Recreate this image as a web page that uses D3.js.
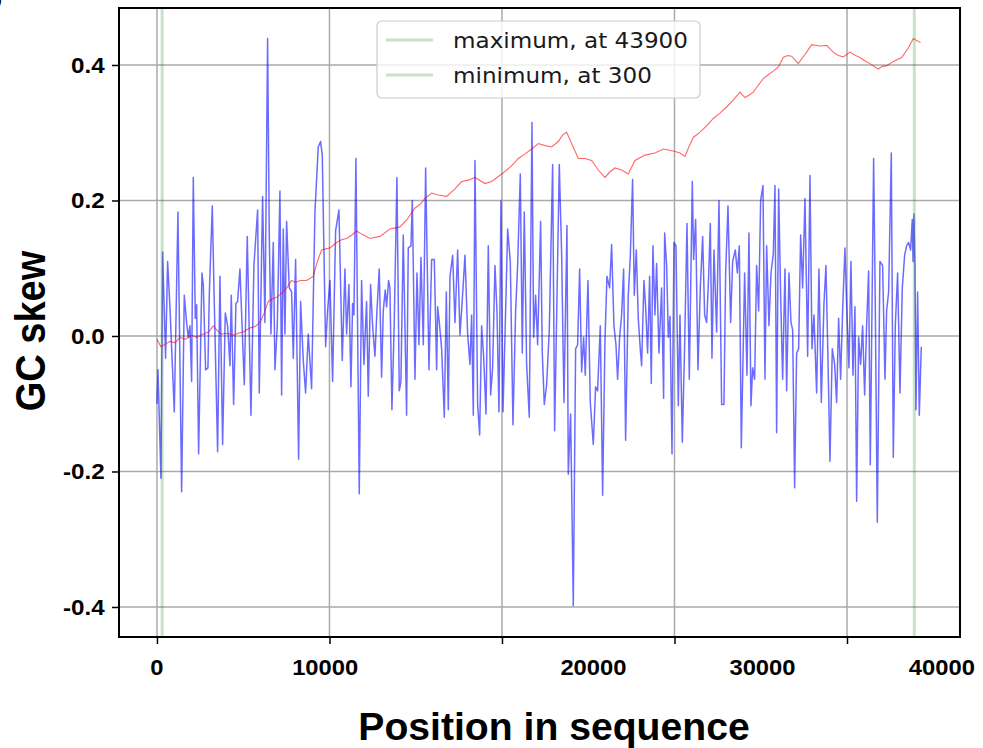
<!DOCTYPE html>
<html>
<head>
<meta charset="utf-8">
<script src="https://cdn.jsdelivr.net/npm/d3@7"></script>
<style>
  body { margin: 0; background: #fff; }
  svg { display: block; }
</style>
</head>
<body>
<div class="gc-plot"></div>
<script>
/** GC skew along the sequence, windows: [position, skew] */
const gcSkew = [
  [0,-0.100],[60,-0.050],[232,-0.210],[328,0.124],[502,-0.033],[618,0.110],[753,0.043],[1005,-0.112],
  [1217,0.183],[1430,-0.230],[1584,0.060],[1719,0.020],[1816,-0.002],[1913,0.015],[2009,-0.067],[2106,0.234],
  [2222,0.026],[2299,0.046],[2415,-0.174],[2608,0.093],[2685,0.076],[2821,-0.050],[2956,-0.047],[3033,0.060],
  [3207,0.192],[3304,0.071],[3516,-0.171],[3651,0.088],[3806,-0.160],[3961,0.034],[4096,0.015],[4231,-0.044],
  [4308,0.060],[4444,-0.101],[4579,0.048],[4675,0.051],[4811,0.099],[5062,-0.072],[5236,0.147],[5448,-0.117],
  [5622,0.104],[5835,0.186],[5931,-0.084],[6124,0.206],[6260,0.020],[6414,0.439],[6511,0.149],[6607,0.003],
  [6743,0.138],[6839,-0.050],[6975,0.015],[7129,0.214],[7226,-0.087],[7322,0.158],[7419,0.003],[7515,0.169],
  [7670,0.071],[7805,0.065],[7902,-0.033],[8037,0.113],[8211,-0.182],[8327,0.051],[8481,-0.036],[8617,-0.084],
  [8771,0.003],[8964,-0.078],[9158,0.183],[9351,0.279],[9486,0.287],[9583,0.267],[9776,-0.016],[9892,0.037],
  [10027,0.082],[10182,-0.067],[10356,0.155],[10549,0.186],[10742,-0.036],[10896,0.099],[10993,0.003],[11128,0.076],
  [11244,-0.075],[11341,0.048],[11418,0.031],[11534,0.262],[11727,-0.233],[11862,0.082],[11998,-0.042],[12152,0.051],
  [12249,-0.089],[12384,0.076],[12500,0.015],[12635,-0.030],[12751,0.037],[12886,0.099],[13022,-0.061],[13118,0.037],
  [13234,0.068],[13311,0.043],[13427,0.082],[13504,0.071],[13620,-0.109],[13756,0.020],[13910,0.234],[14046,-0.081],
  [14142,-0.067],[14278,0.149],[14471,-0.117],[14568,0.130],[14725,0.133],[14802,0.200],[14957,-0.064],[15073,0.093],
  [15188,-0.013],[15304,0.116],[15440,-0.013],[15575,0.248],[15768,-0.050],[15923,0.113],[16077,0.113],[16212,-0.050],
  [16270,0.043],[16367,0.020],[16502,-0.019],[16657,-0.120],[16773,0.065],[16889,-0.109],[16985,0.088],[17140,0.119],
  [17275,0.020],[17430,0.127],[17565,0.001],[17700,0.054],[17855,0.119],[18009,0.003],[18144,-0.042],[18241,0.031],
  [18338,-0.117],[18434,0.259],[18589,-0.101],[18705,-0.146],[18821,0.015],[18937,-0.030],[19072,-0.115],[19207,0.133],
  [19342,-0.087],[19458,-0.047],[19594,0.104],[19709,0.037],[19825,-0.112],[19941,0.200],[20057,-0.112],[20173,-0.002],
  [20328,0.158],[20482,0.110],[20637,-0.131],[20791,0.037],[20907,0.104],[21062,0.239],[21178,-0.025],[21293,0.183],
  [21429,-0.042],[21583,-0.120],[21738,0.315],[21835,-0.002],[21950,0.060],[22066,-0.013],[22240,0.169],[22337,-0.025],
  [22453,-0.101],[22588,-0.072],[22743,0.009],[22936,0.253],[23052,-0.140],[23187,0.054],[23322,0.253],[23458,0.121],
  [23593,-0.098],[23767,0.163],[23844,-0.204],[23979,-0.115],[24134,-0.398],[24269,-0.019],[24385,-0.013],[24501,0.099],
  [24617,-0.053],[24733,-0.002],[24829,-0.058],[24984,0.082],[25119,-0.098],[25293,-0.160],[25428,-0.075],[25544,-0.081],
  [25699,0.015],[25834,-0.235],[25969,-0.008],[26085,0.088],[26240,0.071],[26355,0.135],[26491,0.015],[26607,-0.013],
  [26703,-0.064],[26819,-0.002],[26935,0.031],[27051,0.099],[27167,-0.154],[27321,0.060],[27437,0.116],[27572,0.231],
  [27669,0.060],[27785,0.127],[27901,0.026],[28017,-0.019],[28094,-0.044],[28229,0.082],[28326,0.043],[28442,-0.025],
  [28558,0.088],[28654,-0.070],[28751,0.133],[28867,0.031],[28963,0.107],[29099,-0.025],[29253,0.071],[29369,-0.092],
  [29429,0.152],[29545,0.104],[29642,-0.002],[29739,0.029],[29855,-0.174],[29970,0.138],[30086,0.133],[30222,-0.103],
  [30318,0.031],[30453,-0.157],[30589,-0.013],[30724,0.166],[30859,-0.064],[31033,0.228],[31110,0.113],[31226,0.172],
  [31361,-0.050],[31497,0.071],[31632,0.147],[31748,0.031],[31864,0.020],[31980,0.088],[32076,0.166],[32173,-0.033],
  [32289,0.127],[32443,0.006],[32579,0.200],[32733,-0.101],[32868,-0.101],[32965,0.093],[33100,0.192],[33255,0.020],
  [33371,0.110],[33526,0.127],[33642,0.093],[33757,0.133],[33873,-0.165],[34066,0.093],[34202,-0.058],[34317,0.152],
  [34433,-0.103],[34530,-0.047],[34646,-0.064],[34762,0.104],[34878,0.037],[34994,0.200],[35129,0.222],[35245,-0.064],
  [35341,0.133],[35477,0.015],[35593,0.093],[35728,0.121],[35825,0.222],[35921,-0.143],[36037,0.217],[36153,0.060],
  [36269,-0.064],[36404,0.099],[36501,-0.081],[36636,0.093],[36752,0.020],[36849,0.009],[36964,-0.224],[37080,-0.025],
  [37196,-0.019],[37312,0.149],[37428,0.071],[37563,0.203],[37718,-0.030],[37853,0.237],[37969,-0.019],[38085,0.031],
  [38239,-0.084],[38375,0.099],[38510,-0.098],[38665,0.048],[38780,0.104],[38896,-0.033],[39012,-0.185],[39147,-0.019],
  [39283,-0.042],[39399,-0.098],[39515,0.026],[39630,-0.064],[39746,0.037],[39881,0.130],[39978,0.048],[40113,-0.047],
  [40229,0.110],[40345,-0.058],[40461,0.043],[40558,-0.244],[40674,-0.002],[40789,-0.042],[40905,0.015],[41021,-0.087],
  [41137,0.015],[41253,0.096],[41350,-0.190],[41543,0.262],[41640,0.043],[41756,-0.275],[41910,0.110],[42065,0.104],
  [42200,-0.064],[42297,0.037],[42413,0.065],[42567,0.270],[42683,-0.179],[42799,0.015],[42934,0.093],[43070,-0.084],
  [43205,0.071],[43340,0.119],[43456,0.133],[43572,0.138],[43688,0.127],[43784,0.172],[43830,0.110],[43881,0.180],
  [43939,0.104],[43997,-0.109],[44093,0.065],[44190,-0.117],[44306,-0.016]
];

/** cumulative GC skew: [position, value] */
const cumSkew = [
  [0,-0.005],[232,-0.016],[500,-0.012],[753,-0.008],[1050,-0.010],[1333,-0.002],[1650,-0.005],[2009,0.001],
  [2300,-0.002],[2685,0.003],[3000,0.006],[3265,0.015],[3500,0.008],[3748,0.003],[4100,0.004],[4424,0.001],
  [4700,0.004],[5004,0.006],[5390,0.012],[5700,0.014],[5970,0.020],[6200,0.033],[6453,0.051],[6700,0.055],
  [6936,0.057],[7322,0.065],[7550,0.072],[7805,0.082],[8050,0.079],[8288,0.082],[8675,0.082],[9061,0.088],
  [9300,0.110],[9544,0.127],[10027,0.130],[10414,0.138],[10700,0.142],[10993,0.144],[11300,0.149],[11573,0.155],
  [11900,0.150],[12346,0.144],[12925,0.147],[13200,0.152],[13504,0.158],[14084,0.161],[14500,0.172],[14957,0.189],
  [15250,0.194],[15536,0.203],[15923,0.211],[16309,0.208],[16792,0.206],[17275,0.217],[17661,0.228],[18050,0.230],
  [18434,0.234],[19014,0.225],[19400,0.228],[19980,0.239],[20559,0.251],[20946,0.262],[21300,0.268],[21719,0.276],
  [22105,0.284],[22491,0.281],[22878,0.279],[23264,0.287],[23500,0.296],[23747,0.301],[24037,0.284],[24423,0.262],
  [24810,0.262],[25196,0.259],[25583,0.245],[25969,0.234],[26250,0.242],[26549,0.248],[26935,0.245],[27321,0.239],
  [27708,0.259],[28288,0.267],[28867,0.270],[29350,0.276],[29932,0.273],[30318,0.270],[30608,0.265],[30850,0.280],
  [31091,0.293],[31477,0.301],[31864,0.310],[32250,0.321],[32637,0.329],[33023,0.338],[33400,0.348],[33796,0.360],
  [34086,0.352],[34350,0.356],[34569,0.360],[34850,0.370],[35148,0.380],[35450,0.386],[35728,0.391],[36018,0.397],
  [36307,0.411],[36550,0.414],[36790,0.413],[37177,0.402],[37400,0.410],[37660,0.419],[37950,0.430],[38432,0.428],
  [38819,0.429],[39205,0.419],[39500,0.414],[39785,0.412],[40171,0.419],[40500,0.414],[40751,0.411],[41050,0.406],
  [41331,0.402],[41814,0.394],[42050,0.398],[42297,0.399],[42683,0.405],[43166,0.411],[43552,0.425],[43842,0.439],
  [44035,0.436],[44267,0.433]
];

const maxPos = 43900, minPos = 300;
const xTicks = [0, 10000, 20000, 30000, 40000];
const xTickLabels = ['0', '10000', '20000', '30000', '40000'];
/** the tick labels in the figure do not sit under their ticks; where they sit, in sequence units */
const xTickLabelAt = [0, 9750, 25300, 35100, 45500];
const yTicks = [-0.4, -0.2, 0.0, 0.2, 0.4];
const yTickLabels = ['-0.4', '-0.2', '0.0', '0.2', '0.4'];

/** Set up canvas */
let width = 983, height = 748;
let plotLeft = 119, plotRight = 960, plotTop = 8, plotBottom = 637;
let svg = d3.select('.gc-plot').append('svg')
    .attr('width', width)
    .attr('height', height);

let x = d3.scaleLinear().domain([-2200, 46550]).range([plotLeft, plotRight]);
let y = d3.scaleLinear().domain([-0.4443, 0.4841]).range([plotBottom, plotTop]);

const boldFont = '"Liberation Sans", Arial, Helvetica, sans-serif';
const gridColor = '#aaaaaa';

/** grid */
svg.append('g')
    .selectAll('line')
    .data(xTicks)
    .enter().append('line')
    .attr('x1', d => x(d)).attr('x2', d => x(d))
    .attr('y1', plotTop).attr('y2', plotBottom)
    .attr('stroke', gridColor).attr('stroke-width', 1.5);
svg.append('g')
    .selectAll('line')
    .data(yTicks)
    .enter().append('line')
    .attr('x1', plotLeft).attr('x2', plotRight)
    .attr('y1', d => y(d)).attr('y2', d => y(d))
    .attr('stroke', gridColor).attr('stroke-width', 1.5);

/** data lines */
let lineGen = d3.line().x(d => x(d[0])).y(d => y(d[1]));

svg.append('path')
    .datum(gcSkew)
    .attr('d', lineGen)
    .attr('fill', 'none')
    .attr('stroke', '#0000ff')
    .attr('stroke-opacity', 0.58)
    .attr('stroke-width', 1.5)
    .attr('stroke-linejoin', 'round');

svg.append('path')
    .datum(cumSkew)
    .attr('d', lineGen)
    .attr('fill', 'none')
    .attr('stroke', '#ff0000')
    .attr('stroke-opacity', 0.6)
    .attr('stroke-width', 1.1);

/** max / min markers */
svg.append('g')
    .selectAll('line')
    .data([maxPos, minPos])
    .enter().append('line')
    .attr('x1', d => x(d)).attr('x2', d => x(d))
    .attr('y1', plotTop).attr('y2', plotBottom)
    .attr('stroke', '#008000')
    .attr('stroke-opacity', 0.22)
    .attr('stroke-width', 3);

/** frame */
svg.append('rect')
    .attr('x', plotLeft).attr('y', plotTop)
    .attr('width', plotRight - plotLeft).attr('height', plotBottom - plotTop)
    .attr('fill', 'none')
    .attr('stroke', '#000')
    .attr('stroke-width', 2);

/** axes: tick marks from d3, labels placed by hand */
let yAxis = svg.append('g')
    .attr('transform', `translate(${plotLeft},0)`)
    .call(d3.axisLeft(y).tickValues(yTicks).tickSize(7).tickPadding(6)
        .tickFormat((d, i) => yTickLabels[i]));
yAxis.select('.domain').remove();
yAxis.selectAll('.tick line').attr('stroke-width', 1.5);
yAxis.selectAll('.tick text')
    .attr('font-family', boldFont)
    .attr('font-weight', 'bold')
    .attr('font-size', 22)
    .attr('fill', '#000')
    .attr('transform', 'scale(1.1,1)');

let xAxis = svg.append('g')
    .attr('transform', `translate(0,${plotBottom})`)
    .call(d3.axisBottom(x).tickValues(xTicks).tickSize(7).tickFormat(''));
xAxis.select('.domain').remove();
xAxis.selectAll('.tick line').attr('stroke-width', 1.5);

svg.append('g')
    .selectAll('text')
    .data(xTickLabels)
    .enter().append('text')
    .attr('transform', (d, i) => `translate(${x(xTickLabelAt[i])},675) scale(1.08,1)`)
    .attr('text-anchor', 'middle')
    .attr('font-family', boldFont)
    .attr('font-weight', 'bold')
    .attr('font-size', 22)
    .text(d => d);

/** axis titles */
svg.append('text')
    .attr('transform', 'translate(45,331) scale(1.1,1) rotate(-90)')
    .attr('text-anchor', 'middle')
    .attr('font-family', boldFont)
    .attr('font-weight', 'bold')
    .attr('font-size', 38)
    .text('GC skew');

svg.append('text')
    .attr('transform', 'translate(554,740) scale(1.03,1)')
    .attr('text-anchor', 'middle')
    .attr('font-family', boldFont)
    .attr('font-weight', 'bold')
    .attr('font-size', 38)
    .text('Position in sequence');

/** panel letter, mostly outside the picture as in the figure */
svg.append('text')
    .attr('x', -15).attr('y', 8)
    .attr('font-family', boldFont)
    .attr('font-weight', 'bold')
    .attr('font-size', 28)
    .text('b');

/** legend */
const legendItems = [`maximum, at ${maxPos}`, `minimum, at ${minPos}`];
let legend = svg.append('g').attr('transform', 'translate(377,21)');
legend.append('rect')
    .attr('width', 323).attr('height', 77)
    .attr('rx', 5)
    .attr('fill', '#fff').attr('fill-opacity', 0.8)
    .attr('stroke', '#cccccc').attr('stroke-width', 1.2);
let items = legend.selectAll('.item')
    .data(legendItems)
    .enter().append('g')
    .attr('class', 'item')
    .attr('transform', (d, i) => `translate(0,${19 + i * 35})`);
items.append('line')
    .attr('x1', 9).attr('x2', 56)
    .attr('stroke', '#008000').attr('stroke-opacity', 0.22)
    .attr('stroke-width', 3);
items.append('text')
    .attr('transform', 'translate(76,8) scale(1.1,1)')
    .attr('font-family', '"DejaVu Sans", sans-serif')
    .attr('font-size', 21)
    .attr('fill', '#1a1a1a')
    .text(d => d);
</script>
</body>
</html>
